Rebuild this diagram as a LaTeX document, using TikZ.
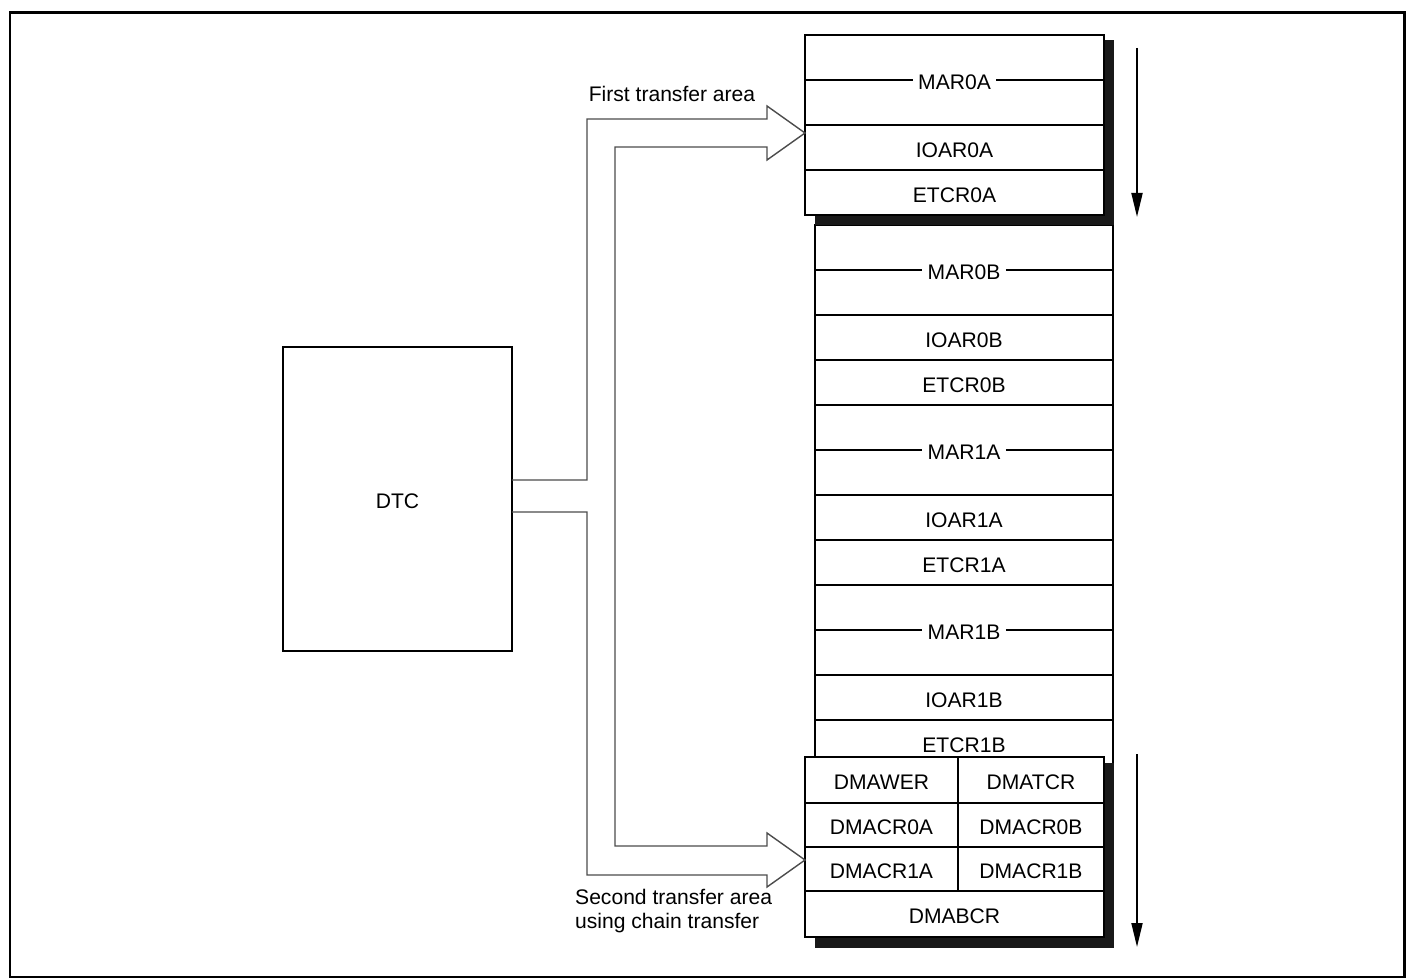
\documentclass[tikz,border=0pt]{standalone}
\usepackage{fontspec}
\setmainfont{Liberation Sans}
\usetikzlibrary{arrows.meta,positioning,calc}

\begin{document}
\begin{tikzpicture}[
  x=0.02cm, y=-0.02cm,
  font=\fontsize{12}{13.5}\selectfont,
  reg/.style={draw, line width=0.8pt, fill=white, outer sep=0pt, inner sep=0pt,
              minimum width=5.96cm, minimum height=0.9cm, text height=11pt, text depth=0pt},
  tall/.style={reg, minimum height=1.8cm},
  lbl/.style={fill=white, inner xsep=3pt, inner ysep=1pt, text height=11pt, text depth=0pt},
  rule/.style={line width=0.8pt},
  shade/.style={fill=black!90},
  band/.style={line width=0.8pt, draw=black!70},
  down/.style={-{Triangle[length=0.48cm, width=0.22cm]}, line width=1.1pt}
]
  \useasboundingbox (0,0) rectangle (1407,979);
  \draw[line width=1.7pt] (10,13) rectangle (1404,977);

  \node[reg, minimum width=4.58cm, minimum height=6.08cm] (dtc) at (397.5,499) {DTC};

  % channel 0B / 1A / 1B registers
  \node[tall] (mar0b) at (964,270) {};
  \node[reg, below=0pt of mar0b]  (ioar0b) {IOAR0B};
  \node[reg, below=0pt of ioar0b] (etcr0b) {ETCR0B};
  \node[tall, below=0pt of etcr0b] (mar1a) {};
  \node[reg, below=0pt of mar1a]  (ioar1a) {IOAR1A};
  \node[reg, below=0pt of ioar1a] (etcr1a) {ETCR1A};
  \node[tall, below=0pt of etcr1a] (mar1b) {};
  \node[reg, below=0pt of mar1b]  (ioar1b) {IOAR1B};
  \node[reg, below=0pt of ioar1b] (etcr1b) {ETCR1B};
  \foreach \r/\t in {mar0b/MAR0B, mar1a/MAR1A, mar1b/MAR1B} {
    \node[lbl] (\r-l) at (\r) {\t};
    \draw[rule] (\r.west) -- (\r-l) (\r-l) -- (\r.east);
  }

  \fill[shade] (815,40) rectangle (1114,225);
  \fill[shade] (815,763) rectangle (1114,948);

  % first transfer area
  \node[tall, minimum width=5.98cm] (mar0a) at (954.5,80) {};
  \node[reg, minimum width=5.98cm, below=0pt of mar0a]  (ioar0a) {IOAR0A};
  \node[reg, minimum width=5.98cm, below=0pt of ioar0a] (etcr0a) {ETCR0A};
  \node[lbl] (mar0a-l) at (mar0a) {MAR0A};
  \draw[rule] (mar0a.west) -- (mar0a-l) (mar0a-l) -- (mar0a.east);

  % second transfer area
  \node[reg, minimum width=3.06cm, minimum height=0.92cm] (dmawer) at (881.5,780) {DMAWER};
  \node[reg, minimum width=2.92cm, minimum height=0.92cm, right=0pt of dmawer] (dmatcr) {DMATCR};
  \node[reg, minimum width=3.06cm, minimum height=0.88cm, below=0pt of dmawer] (dmacr0a) {DMACR0A};
  \node[reg, minimum width=2.92cm, minimum height=0.88cm, right=0pt of dmacr0a] (dmacr0b) {DMACR0B};
  \node[reg, minimum width=3.06cm, minimum height=0.88cm, below=0pt of dmacr0a] (dmacr1a) {DMACR1A};
  \node[reg, minimum width=2.92cm, minimum height=0.88cm, right=0pt of dmacr1a] (dmacr1b) {DMACR1B};
  \node[reg, minimum width=5.98cm, minimum height=0.92cm, anchor=north west] (dmabcr)
    at (dmacr1a.south west) {DMABCR};

  \coordinate (tipA) at (805,133);
  \coordinate (tipB) at (805,860);
  \draw[band] (dtc.east |- 0,480) -| (587,119) -- (767,119) -- (767,106) -- (tipA)
    -- (767,160) -- (767,147) -| (615,846) -- (767,846) -- (767,833) -- (tipB)
    -- (767,887) -- (767,875) -| (587,512) -- (dtc.east |- 0,512);

  \node (first) at (672,94) {First transfer area};
  \node[anchor=west, align=left] (second) at (569,911)
    {Second transfer area\\using chain transfer};

  \coordinate (d1s) at (1137,48);
  \coordinate (d1e) at (1137,217);
  \coordinate (d2s) at (1137,754);
  \coordinate (d2e) at (1137,947);
  \draw[down] (d1s) -- (d1e);
  \draw[down] (d2s) -- (d2e);
\end{tikzpicture}
\end{document}
